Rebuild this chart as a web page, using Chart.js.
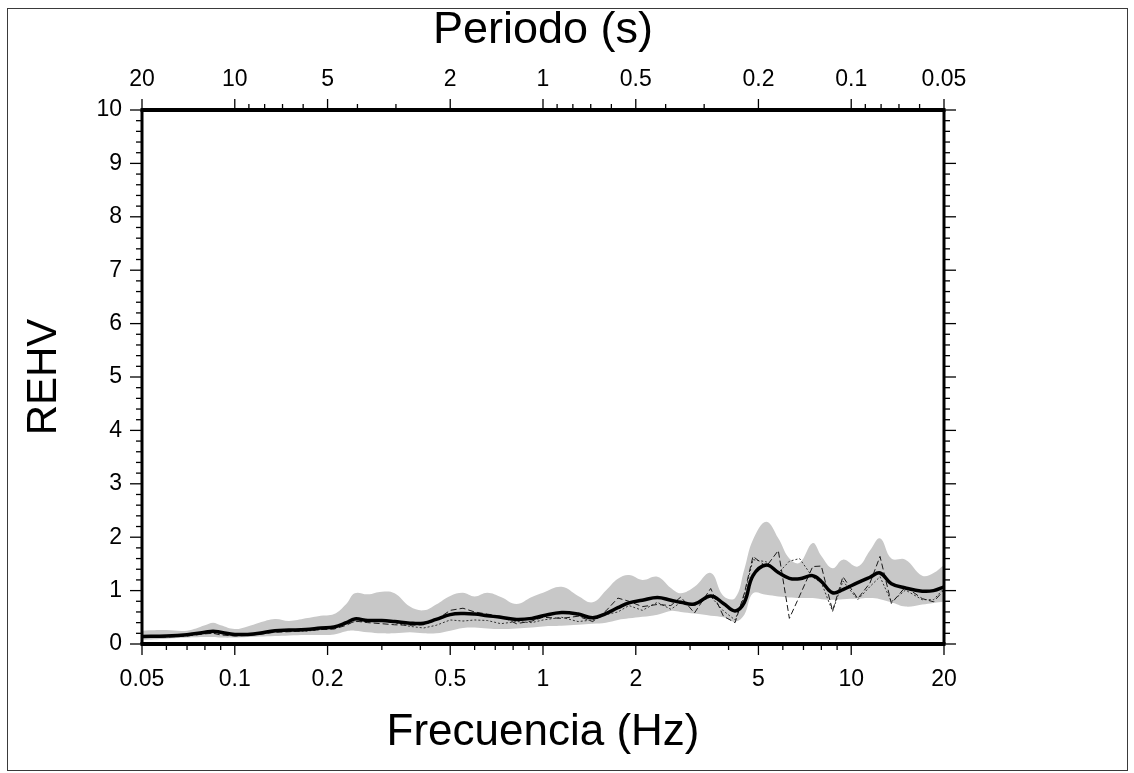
<!DOCTYPE html>
<html lang="es">
  <head>
    <meta charset="UTF-8" />
    <title>REHV - Frecuencia</title>
    <script src="https://cdn.jsdelivr.net/npm/chart.js"></script>
    <style>
      html, body { margin: 0; padding: 0; background: #fff; }
      #wrap { position: relative; width: 1134px; height: 773px; }
      #frame {
        position: absolute; left: 7px; top: 8px; width: 1119px; height: 761px;
        border: 1px solid #3a3a3a; pointer-events: none;
      }
    </style>
  </head>
  <body>
    <div id="wrap">
      <canvas id="rehvChart" width="1134" height="773"></canvas>
      <div id="frame"></div>
    </div>

    <script>
      // frecuencias (Hz) de los puntos leídos
      const frequencies = [
        0.05, 0.06, 0.07, 0.08, 0.085, 0.09, 0.1, 0.11, 0.12, 0.135,
        0.15, 0.17, 0.19, 0.21, 0.23, 0.245, 0.27, 0.3, 0.33, 0.37,
        0.41, 0.45, 0.5, 0.55, 0.6, 0.66, 0.73, 0.82, 0.92, 1.0,
        1.15, 1.3, 1.45, 1.6, 1.75, 1.9, 2.1, 2.35, 2.6, 2.8,
        3.1, 3.5, 3.85, 4.2, 4.5, 4.8, 5.3, 5.8, 6.3, 6.8,
        7.5, 8.0, 8.7, 9.4, 10.5, 11.5, 12.4, 13.5, 15, 17,
        18.5, 20,
      ];
      // REHV promedio (línea gruesa)
      const meanRehv = [
        0.14, 0.15, 0.175, 0.22, 0.24, 0.22, 0.18, 0.18, 0.2, 0.25,
        0.26, 0.27, 0.3, 0.32, 0.4, 0.47, 0.44, 0.44, 0.42, 0.39,
        0.39, 0.46, 0.55, 0.57, 0.56, 0.53, 0.5, 0.46, 0.48, 0.53,
        0.59, 0.56, 0.49, 0.57, 0.68, 0.77, 0.82, 0.87, 0.82, 0.78,
        0.75, 0.9, 0.76, 0.62, 0.78, 1.28, 1.48, 1.34, 1.23, 1.22,
        1.28, 1.17, 0.96, 1.02, 1.15, 1.25, 1.33, 1.13, 1.05, 0.99,
        1.0, 1.07,
      ];
      // banda gris: límite superior e inferior
      const upperRehv = [
        0.25, 0.26, 0.25, 0.35, 0.4, 0.35, 0.28, 0.33, 0.4, 0.47,
        0.43, 0.48, 0.53, 0.56, 0.75, 0.95, 0.93, 0.98, 0.95, 0.7,
        0.63, 0.74, 0.9, 0.96, 0.89, 0.96, 0.88, 0.75, 0.88, 0.96,
        1.07, 0.9, 0.78, 1.0, 1.22, 1.29, 1.2, 1.26, 1.05, 0.95,
        1.07, 1.33, 0.9, 0.86, 1.4, 1.95, 2.29, 1.98, 1.6, 1.52,
        1.89, 1.65, 1.42, 1.58, 1.45, 1.75, 1.98, 1.6, 1.58, 1.28,
        1.33, 1.48,
      ];
      const lowerRehv = [
        0.08, 0.1, 0.12, 0.13, 0.13, 0.12, 0.12, 0.13, 0.14, 0.15,
        0.16, 0.17, 0.17, 0.18, 0.24, 0.25, 0.22, 0.2, 0.2, 0.22,
        0.2, 0.2, 0.25, 0.3, 0.31, 0.29, 0.28, 0.29, 0.31, 0.33,
        0.34, 0.36, 0.38, 0.4, 0.45, 0.48, 0.51, 0.55, 0.62, 0.6,
        0.57, 0.53, 0.5, 0.42, 0.55, 0.95, 0.92, 0.89, 0.87, 0.86,
        0.86, 0.84, 0.83, 0.84, 0.85, 0.86, 0.84, 0.78, 0.7, 0.74,
        0.77, 0.79,
      ];
      // componentes individuales (líneas finas)
      const compA = [
        0.12, 0.13, 0.15, 0.19, 0.2, 0.17, 0.15, 0.16, 0.18, 0.22,
        0.23, 0.25, 0.27, 0.28, 0.35, 0.43, 0.4, 0.38, 0.36, 0.35,
        0.36, 0.45, 0.63, 0.67, 0.6, 0.56, 0.52, 0.38, 0.43, 0.5,
        0.48, 0.52, 0.42, 0.62, 0.86, 0.8, 0.7, 0.74, 0.72, 0.88,
        0.58, 1.04, 0.52, 0.4, 0.95, 1.64, 1.45, 1.75, 0.48, 0.9,
        1.45, 1.46, 0.62, 1.26, 0.85, 1.14, 1.64, 0.76, 1.07, 0.85,
        0.79, 1.01,
      ];
      const compB = [
        0.15, 0.15, 0.17, 0.2, 0.21, 0.2, 0.16, 0.17, 0.19, 0.23,
        0.24, 0.24, 0.27, 0.3, 0.37, 0.42, 0.42, 0.43, 0.4, 0.33,
        0.3, 0.35, 0.45, 0.43, 0.45, 0.44, 0.38, 0.42, 0.4, 0.45,
        0.5, 0.42, 0.45, 0.55, 0.6, 0.72, 0.63, 0.78, 0.65, 0.78,
        0.72, 0.89, 0.62, 0.45, 0.9, 1.58, 1.54, 1.33, 1.55, 1.6,
        1.25, 1.15, 0.61, 1.18, 0.83, 1.075, 1.26, 0.79, 1.01, 0.83,
        0.83, 1.04,
      ];

      // marcas de los ejes
      const freqMajor = [0.05, 0.1, 0.2, 0.5, 1, 2, 5, 10, 20];
      const freqMinor = [0.06, 0.07, 0.08, 0.09, 0.3, 0.4, 0.6, 0.7, 0.8, 0.9, 3, 4, 6, 7, 8, 9];
      const periodMajor = [20, 10, 5, 2, 1, 0.5, 0.2, 0.1, 0.05];
      const periodMinor = [9, 8, 7, 6, 4, 3, 0.9, 0.8, 0.7, 0.6, 0.4, 0.3, 0.09, 0.08, 0.07, 0.06];
      const yMin = 0;
      const yMax = 10;

      const FONT = "'Liberation Sans', Arial, Helvetica, sans-serif";
      Chart.defaults.font.family = FONT;
      Chart.defaults.color = "#000";

      const pts = (arr) => frequencies.map((f, i) => ({ x: f, y: arr[i] }));

      // marcas mayores/menores y marco grueso, dibujados con las escalas
      const frameTicks = {
        id: "frameTicks",
        afterDraw(chart) {
          const { ctx, chartArea: a } = chart;
          const xs = chart.scales.x;
          const ys = chart.scales.y;
          const line = (x1, y1, x2, y2) => {
            ctx.beginPath();
            ctx.moveTo(x1, y1);
            ctx.lineTo(x2, y2);
            ctx.stroke();
          };
          ctx.save();
          ctx.strokeStyle = "#000";
          ctx.lineWidth = 1.3;
          freqMajor.forEach((f) => {
            const px = xs.getPixelForValue(f);
            line(px, a.bottom, px, a.bottom + 11);
          });
          freqMinor.forEach((f) => {
            const px = xs.getPixelForValue(f);
            line(px, a.bottom, px, a.bottom + 6);
          });
          periodMajor.forEach((p) => {
            const px = xs.getPixelForValue(1 / p);
            line(px, a.top, px, a.top - 11);
          });
          periodMinor.forEach((p) => {
            const px = xs.getPixelForValue(1 / p);
            line(px, a.top, px, a.top - 6);
          });
          for (let k = yMin * 5; k <= yMax * 5; k++) {
            const py = ys.getPixelForValue(k / 5);
            const len = k % 5 === 0 ? 12 : 6;
            line(a.left - len, py, a.left, py);
            line(a.right, py, a.right + len, py);
          }
          ctx.lineWidth = 4;
          line(a.left - 1.5, a.top, a.right + 1.5, a.top);
          line(a.left - 1.5, a.bottom, a.right + 1.5, a.bottom);
          ctx.lineWidth = 3;
          line(a.left, a.top, a.left, a.bottom);
          line(a.right, a.top, a.right, a.bottom);
          ctx.restore();
        },
      };

      const axisCommon = {
        grid: { drawOnChartArea: false, drawTicks: false },
        border: { display: false },
      };

      new Chart(document.getElementById("rehvChart"), {
        type: "line",
        data: {
          datasets: [
            {
              label: "Promedio",
              data: pts(meanRehv),
              borderColor: "#000",
              borderWidth: 3.5,
              pointRadius: 0,
              tension: 0.4,
              fill: false,
            },
            {
              label: "Componente 1",
              data: pts(compA),
              borderColor: "#1a1a1a",
              borderWidth: 1,
              borderDash: [6, 3],
              pointRadius: 0,
              tension: 0,
              fill: false,
            },
            {
              label: "Componente 2",
              data: pts(compB),
              borderColor: "#333",
              borderWidth: 1,
              borderDash: [2, 2],
              pointRadius: 0,
              tension: 0,
              fill: false,
            },
            {
              label: "Superior",
              data: pts(upperRehv),
              borderWidth: 0,
              borderColor: "rgba(0,0,0,0)",
              backgroundColor: "#c8c8c8",
              pointRadius: 0,
              tension: 0.4,
              fill: "+1",
            },
            {
              label: "Inferior",
              data: pts(lowerRehv),
              borderWidth: 0,
              borderColor: "rgba(0,0,0,0)",
              pointRadius: 0,
              tension: 0.4,
              fill: false,
            },
          ],
        },
        options: {
          responsive: false,
          animation: false,
          layout: { padding: { left: 0, top: 0, right: 190, bottom: 0 } },
          plugins: {
            legend: { display: false },
            tooltip: { enabled: false },
            filler: { drawTime: "beforeDatasetsDraw" },
          },
          scales: {
            x: {
              ...axisCommon,
              type: "logarithmic",
              position: "bottom",
              min: 0.05,
              max: 20,
              afterBuildTicks: (s) => {
                s.ticks = freqMajor.map((v) => ({ value: v }));
              },
              afterFit: (s) => {
                s.height = 129;
              },
              ticks: {
                autoSkip: false,
                maxRotation: 0,
                padding: 22,
                font: { size: 23 },
                callback: (v) => String(v),
              },
              title: {
                display: true,
                text: "Frecuencia (Hz)",
                font: { size: 44 },
                padding: { top: 0, bottom: 14 },
              },
            },
            xTop: {
              ...axisCommon,
              type: "logarithmic",
              position: "top",
              min: 0.05,
              max: 20,
              afterBuildTicks: (s) => {
                s.ticks = periodMajor.map((p) => ({ value: 1 / p }));
              },
              afterFit: (s) => {
                s.height = 110;
              },
              ticks: {
                autoSkip: false,
                maxRotation: 0,
                padding: 17,
                font: { size: 23 },
                callback: (v, i) => String(periodMajor[i]),
              },
              title: {
                display: true,
                text: "Periodo (s)",
                font: { size: 45 },
                padding: { top: 4, bottom: 0 },
              },
            },
            y: {
              ...axisCommon,
              type: "linear",
              position: "left",
              min: yMin,
              max: yMax,
              afterFit: (s) => {
                s.width = 142;
              },
              ticks: { stepSize: 1, padding: 20, font: { size: 23 } },
              title: {
                display: true,
                text: "REHV",
                font: { size: 42 },
                padding: { top: 19, bottom: 0 },
              },
            },
          },
        },
        plugins: [frameTicks],
      });
    </script>
  </body>
</html>
